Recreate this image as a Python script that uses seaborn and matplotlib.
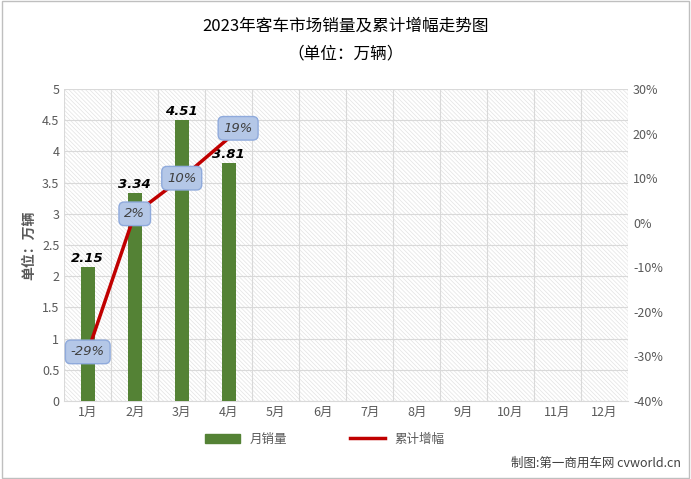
import pandas as pd
import matplotlib.pyplot as plt
import seaborn as sns
from matplotlib.patches import Rectangle, Patch
from matplotlib.lines import Line2D

plt.rcParams['font.family'] = ['Noto Sans CJK SC']
plt.rcParams['hatch.color'] = '#e3e3e3'
plt.rcParams['hatch.linewidth'] = 0.5

months = [f'{i}月' for i in range(1, 13)]
sales = [2.15, 3.34, 4.51, 3.81]
growth = [-29, 2, 10, 19]

df = pd.DataFrame({'month': months, 'sales': sales + [0] * 8})

fig = plt.figure(figsize=(6.91, 4.79), dpi=100)
fig.patches.append(Rectangle((0.003, 0.003), 0.994, 0.994, transform=fig.transFigure,
                             fill=False, edgecolor='#bfbfbf', linewidth=1))
ax = fig.add_axes([0.093, 0.163, 0.816, 0.651])
ax.add_patch(Rectangle((0, 0), 1, 1, transform=ax.transAxes, facecolor='white',
                       hatch='\\' * 8, edgecolor='#e3e3e3', linewidth=0, zorder=0))

sns.barplot(data=df, x='month', y='sales', color='#548235', width=0.3, saturation=1, ax=ax, zorder=3)
ax.set_ylim(0, 5)
ax.set_xlim(-0.5, 11.5)
ax.set_yticks([i * 0.5 for i in range(11)])
ax.set_yticklabels(['0', '0.5', '1', '1.5', '2', '2.5', '3', '3.5', '4', '4.5', '5'])
ax.set_xticks(range(12))
ax.set_xticklabels(months)
ax.grid(axis='y', color='#d9d9d9', linewidth=0.8, zorder=1)
for x in range(13):
    ax.axvline(x - 0.5, color='#d9d9d9', linewidth=0.8, zorder=1)
ax.set_axisbelow(True)
ax.set_xlabel('')
ax.set_ylabel('单位：万辆', fontsize=10, color='#595959', fontweight='bold')
for s in ax.spines.values():
    s.set_visible(False)
ax.spines['bottom'].set_visible(True)
ax.spines['bottom'].set_color('#d9d9d9')
ax.tick_params(length=0, labelsize=9, colors='#595959')

for i, v in enumerate(sales):
    ax.text(i, v + 0.03, f'{v:.2f}', ha='center', va='bottom', fontsize=9.5,
            fontweight='bold', style='italic', family='DejaVu Sans', zorder=5)

ax2 = ax.twinx()
ax2.set_ylim(-40, 30)
ax2.set_yticks(range(-40, 31, 10))
ax2.set_yticklabels([f'{t}%' for t in range(-40, 31, 10)])
ax2.tick_params(length=0, labelsize=9, colors='#595959')
for s in ax2.spines.values():
    s.set_visible(False)
sns.lineplot(x=list(range(4)), y=growth, color='#c00000', linewidth=2.5, ax=ax2, zorder=4)
offsets = [(0, 0), (0, 0), (0, 0), (0.2, 2.2)]
for i, g in enumerate(growth):
    dx, dy = offsets[i]
    ax2.text(i + dx, g + dy, f'{g}%', ha='center', va='center', fontsize=9.5, style='italic',
             family='DejaVu Sans', color='#404040', zorder=6,
             bbox=dict(boxstyle='round,pad=0.4', facecolor='#b4c7e7', edgecolor='#8faadc'))

fig.text(0.5, 0.935, '2023年客车市场销量及累计增幅走势图', ha='center', fontsize=12)
fig.text(0.5, 0.878, '（单位：万辆）', ha='center', fontsize=12)

handles = [Patch(color='#548235'), Line2D([], [], color='#c00000', linewidth=2.5)]
fig.legend(handles, ['月销量', '累计增幅'], loc='center', bbox_to_anchor=(0.47, 0.083), ncol=2,
           frameon=False, fontsize=9, handlelength=2.8, columnspacing=5, labelcolor='#595959')
fig.text(0.985, 0.025, '制图:第一商用车网 cvworld.cn', ha='right', fontsize=9, color='#404040')

fig.savefig('out.png', dpi=100)
